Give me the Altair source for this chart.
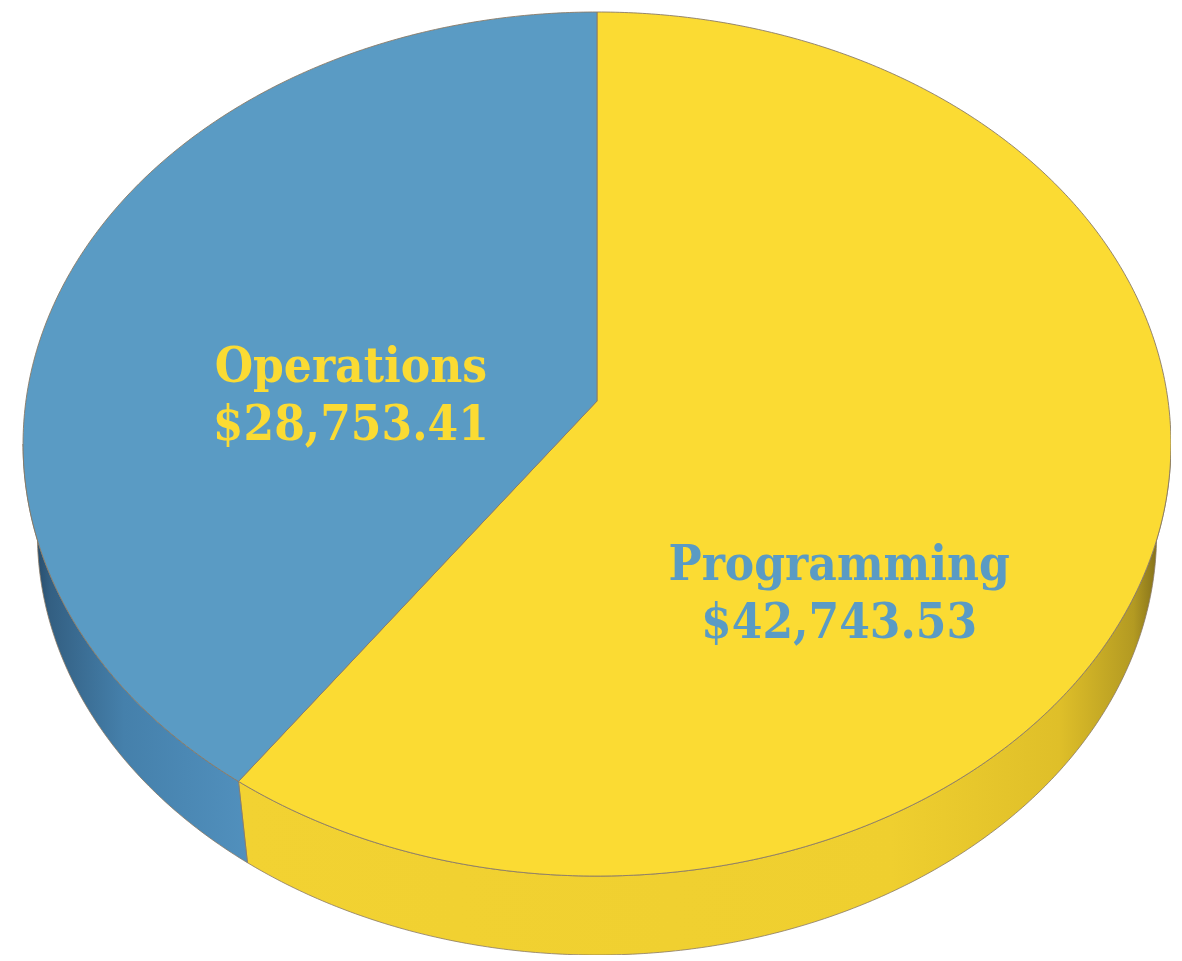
import math
import altair as alt
import pandas as pd

# ---- data ----
categories = ["Programming", "Operations"]
values = [42743.53, 28753.41]
value_labels = ["$42,743.53", "$28,753.41"]

# ---- style / layout constants (unit = pie radius) ----
TOP_COLORS = ["#fbdb33", "#5a9bc4"]
LABEL_COLORS = ["#5a9bc4", "#fbdb33"]
LABEL_POS = {"Programming": (0.424, 0.3135), "Operations": (-0.431, -0.0333)}
RX, RY = 1.0, 0.749      # ellipse radii of the tilted top face
K = 0.0995               # perspective strength
SHRINK, DEPTH = 0.975, 0.159
STEP = 0.5


def project(alpha_deg, bottom=False):
    a = math.radians(alpha_deg)
    u, v = math.sin(a), -math.cos(a)
    s = 1.0 / (1.0 - K * v)
    x, y = RX * u * s, RY * v * s
    if bottom:
        x, y = x * SHRINK, y * SHRINK + DEPTH
    return [x, y]


def arc(a0, a1, bottom=False):
    n = max(2, int(abs(a1 - a0) / STEP) + 1)
    return [project(a0 + (a1 - a0) * i / (n - 1), bottom) for i in range(n)]


total = sum(values)
starts, ends = [], []
acc = 0.0
for v in values:
    starts.append(acc / total * 360.0)
    acc += v
    ends.append(acc / total * 360.0)

# visible side band lies between the two silhouette tangents
t_right = math.degrees(math.acos(-K))
t_left = 360.0 - t_right

top_features, side_features = [], []
for cat, a0, a1 in zip(categories, starts, ends):
    ring = [[0.0, 0.0]] + arc(a0, a1) + [[0.0, 0.0]]
    top_features.append({"type": "Feature", "properties": {"category": cat},
                         "geometry": {"type": "Polygon", "coordinates": [ring]}})
    s0, s1 = max(a0, t_right), min(a1, t_left)
    if s1 > s0:
        ring = arc(s0, s1) + arc(s1, s0, bottom=True)
        ring.append(ring[0])
        side_features.append({"type": "Feature", "properties": {"category": cat},
                              "geometry": {"type": "Polygon", "coordinates": [ring]}})

label_df = pd.DataFrame({
    "category": categories,
    "label": [f"{c}\n{v}" for c, v in zip(categories, value_labels)],
    "x": [LABEL_POS[c][0] for c in categories],
    "y": [LABEL_POS[c][1] for c in categories],
})

PROJ = dict(type="identity")

side_grad = {
    "Programming": alt.LinearGradient(
        gradient="linear", x1=0, x2=1, y1=0, y2=0,
        stops=[alt.GradientStop(offset=0, color="#f2d232"),
               alt.GradientStop(offset=0.7, color="#efcf2f"),
               alt.GradientStop(offset=0.88, color="#dfbf29"),
               alt.GradientStop(offset=0.96, color="#b39a22"),
               alt.GradientStop(offset=1, color="#6a5a16")]),
    "Operations": alt.LinearGradient(
        gradient="linear", x1=0, x2=1, y1=0, y2=0,
        stops=[alt.GradientStop(offset=0, color="#1e3c56"),
               alt.GradientStop(offset=0.12, color="#335f82"),
               alt.GradientStop(offset=0.45, color="#4580ab"),
               alt.GradientStop(offset=1, color="#5190bd")]),
}

side_layers = []
for f in side_features:
    cat = f["properties"]["category"]
    side_layers.append(
        alt.Chart(alt.Data(values=[f])).mark_geoshape(
            fill=side_grad[cat], stroke="#8a7a66", strokeWidth=0.8
        ).project(**PROJ)
    )

top = alt.Chart(alt.Data(values=top_features)).mark_geoshape(
    stroke="#8a7a66", strokeWidth=0.9
).encode(
    color=alt.Color("properties.category:N",
                    scale=alt.Scale(domain=categories, range=TOP_COLORS),
                    legend=None)
).project(**PROJ)

labels = alt.Chart(label_df).mark_text(
    font="DejaVu Serif Condensed, DejaVu Serif", fontWeight="bold", fontSize=49,
    lineBreak="\n", lineHeight=58, align="center", baseline="alphabetic"
).encode(
    longitude="x:Q", latitude="y:Q", text="label:N",
    color=alt.Color("category:N",
                    scale=alt.Scale(domain=categories, range=LABEL_COLORS),
                    legend=None)
).project(**PROJ)

chart = alt.layer(*side_layers, top, labels).resolve_scale(
    color="independent"
).properties(
    width=1148, height=943,
    padding={"left": 15, "top": 4, "right": 0, "bottom": 0},
    autosize="none",
    background="white",
).configure_view(stroke=None)

chart.save("out.html", embed_options={"renderer": "svg", "actions": False})
